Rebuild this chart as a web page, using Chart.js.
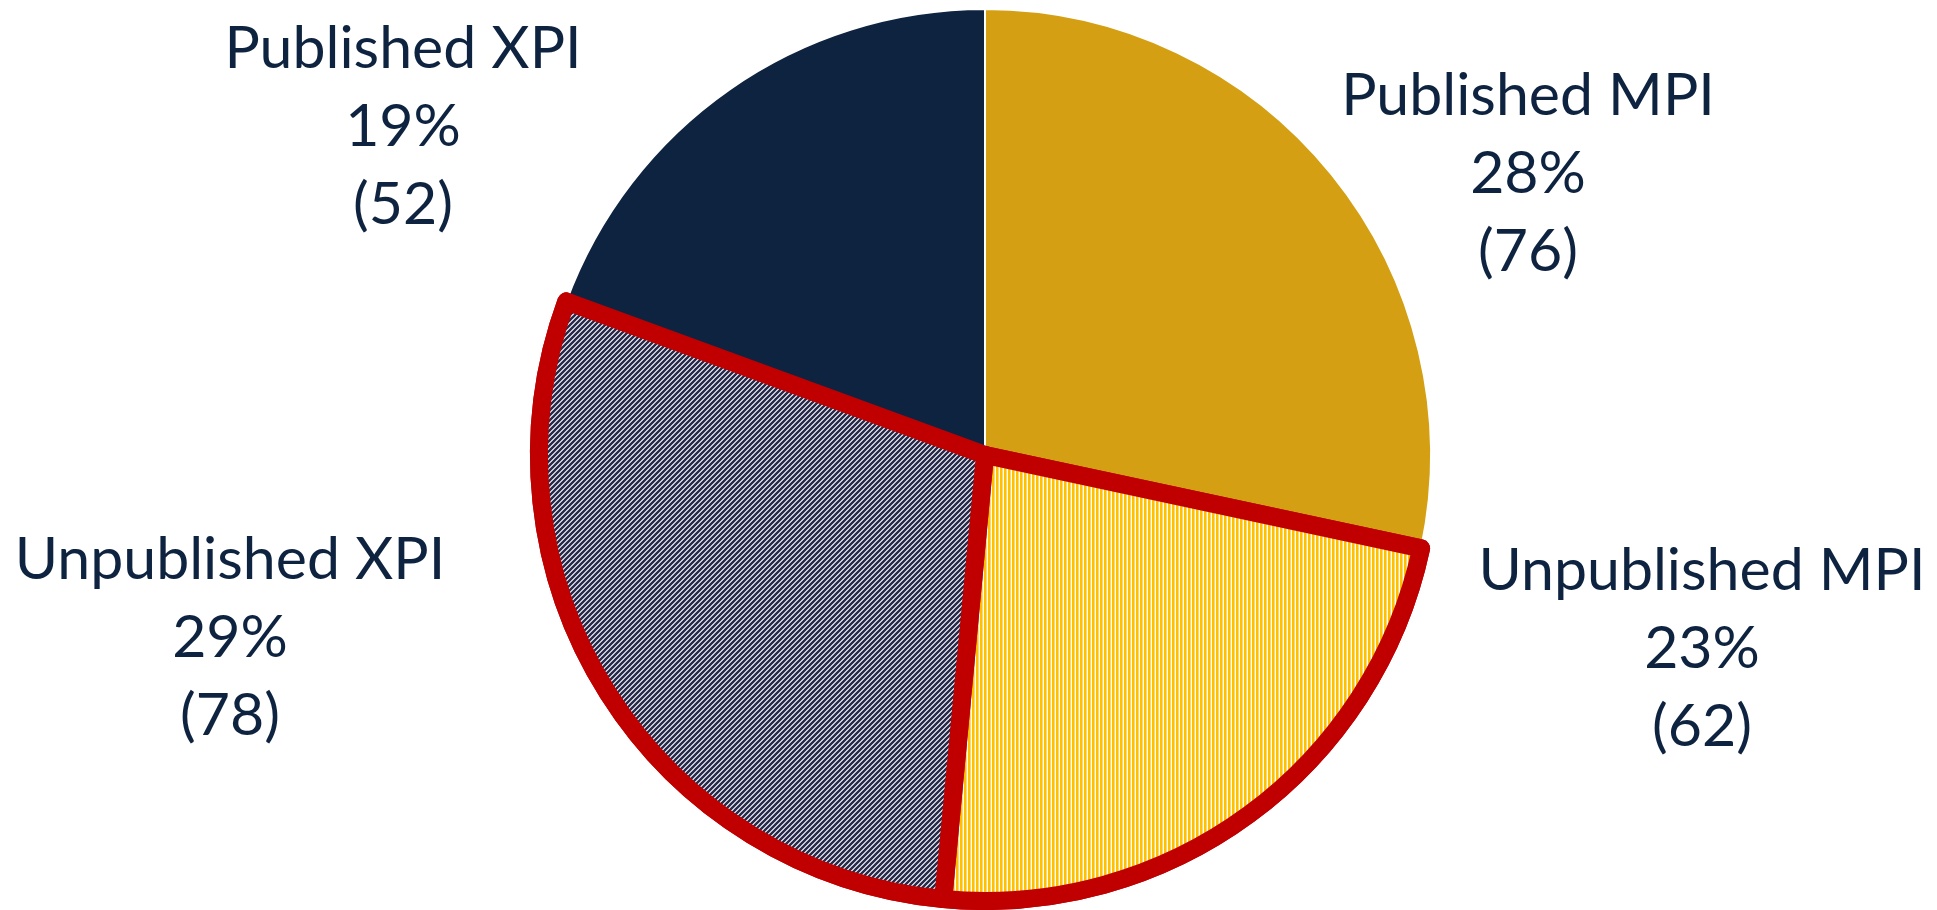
<!DOCTYPE html>
<html>
<head>
<meta charset="utf-8">
<script src="https://cdn.jsdelivr.net/npm/chart.js@4.4.0/dist/chart.umd.min.js"></script>
<style>
  html, body { margin: 0; padding: 0; background: #fff; }
  #wrap { width: 1937px; height: 910px; }
</style>
</head>
<body>
<div id="wrap"><canvas id="myChart"></canvas></div>
<script>
const categories = ['Published MPI', 'Unpublished MPI', 'Unpublished XPI', 'Published XPI'];
const counts = [76, 62, 78, 52];
const published = [true, false, false, true];

const navy = '#0e2340';
const gold = '#d49f12';
const red = '#c00000';

// stripe fills for the unpublished slices
function vStripes() {
    const c = document.createElement('canvas');
    c.width = 4; c.height = 4;
    const g = c.getContext('2d');
    g.fillStyle = '#fff';
    g.fillRect(0, 0, 4, 4);
    g.fillStyle = '#ffc000';
    g.fillRect(0, 0, 2.6, 4);
    return g.createPattern(c, 'repeat');
}
function dStripes() {
    const s = 5;
    const c = document.createElement('canvas');
    c.width = s; c.height = s;
    const g = c.getContext('2d');
    g.fillStyle = '#fff';
    g.fillRect(0, 0, s, s);
    g.strokeStyle = '#282a4c';
    g.lineWidth = 2.4;
    g.beginPath();
    g.moveTo(-1, s + 1); g.lineTo(s + 1, -1);
    g.moveTo(-1, 1); g.lineTo(1, -1);
    g.moveTo(s - 1, s + 1); g.lineTo(s + 1, s - 1);
    g.stroke();
    return g.createPattern(c, 'repeat');
}

const fills = [gold, vStripes(), dStripes(), navy];

// where each label block sits (x centre, first baseline)
const labelPos = [[1528, 115], [1702, 590], [230, 579], [403, 68]];

const total = counts.reduce((a, b) => a + b, 0);

const labelPlugin = {
    id: 'labels',
    afterDatasetsDraw(chart) {
        const ctx = chart.ctx;
        const meta = chart.getDatasetMeta(0);
        // redraw the red-edged slices so their border sits on top
        meta.data.forEach((arc, i) => { if (!published[i]) arc.draw(ctx); });

        ctx.save();
        ctx.fillStyle = navy;
        ctx.font = '59px Lato';
        ctx.textAlign = 'center';
        ctx.textBaseline = 'alphabetic';
        categories.forEach((name, i) => {
            const [x, y] = labelPos[i];
            const pct = Math.round(counts[i] / total * 100) + '%';
            ctx.fillText(name, x, y);
            ctx.fillText(pct, x, y + 78);
            ctx.fillText('(' + counts[i] + ')', x, y + 156);
        });
        ctx.restore();
    }
};

const ctx = document.getElementById('myChart');

new Chart(ctx, {
    type: 'pie',
    data: {
        labels: categories,
        datasets: [{
            data: counts,
            backgroundColor: fills,
            borderColor: published.map(p => p ? '#ffffff' : red),
            borderWidth: published.map(p => p ? 2 : 18),
            borderJoinStyle: 'round'
        }]
    },
    options: {
        responsive: true,
        maintainAspectRatio: false,
        animation: false,
        layout: { padding: { left: 33, right: 0, top: 0, bottom: 0 } },
        plugins: {
            legend: { display: false },
            tooltip: { enabled: false }
        }
    },
    plugins: [labelPlugin]
});
</script>
</body>
</html>
